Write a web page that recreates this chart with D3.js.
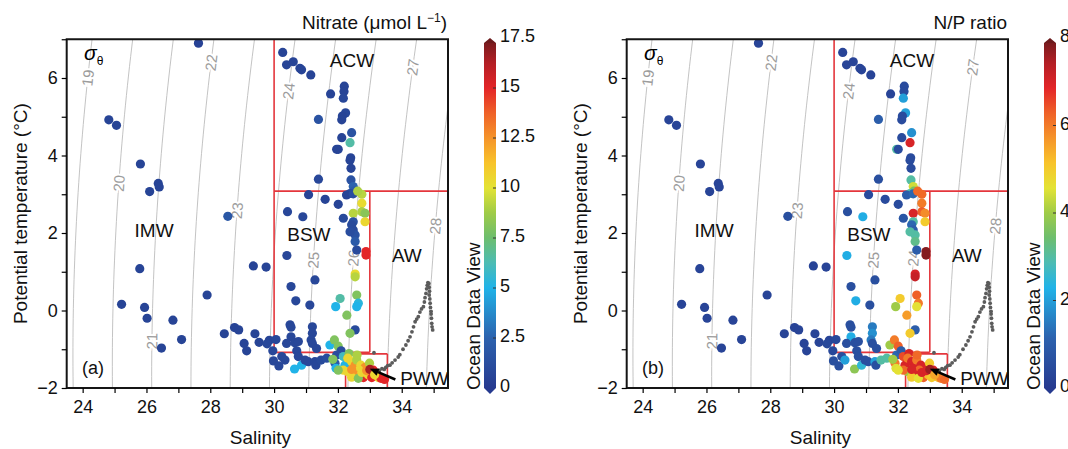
<!DOCTYPE html>
<html>
<head>
<meta charset="utf-8">
<script src="https://cdn.jsdelivr.net/npm/d3@7"></script>
<style>
  body { margin: 0; background: #fff; }
  svg { font-family: "Liberation Sans", Arial, sans-serif; }
</style>
</head>
<body>
<div id="chart"></div>
<script>
// ---- station data: salinity, potential temperature, nitrate, N/P ----
const salinity = [
  27.63,24.82,25.06,25.81,26.10,26.37,26.40,28.55,25.79,25.22,25.94,26.02,26.83,27.10,26.47,27.90,29.35,29.75,28.44,28.76,28.89,29.40,29.06,29.14,29.53,29.85,30.06,29.78,29.96,
  30.27,30.39,30.60,30.81,30.86,31.15,31.77,32.20,32.19,32.17,31.39,32.24,32.14,32.12,32.43,32.12,32.38,31.96,32.01,32.40,32.38,32.41,31.39,32.41,32.48,32.50,
  31.08,31.60,32.01,32.38,32.27,32.48,32.75,32.62,32.75,32.75,32.85,32.85,32.48,32.48,32.43,32.48,32.54,32.54,32.59,32.17,32.38,30.90,30.42,32.88,32.88,32.54,
  32.54,31.28,32.07,32.59,32.64,32.59,31.93,31.12,32.28,31.20,32.54,32.38,30.40,30.53,30.68,
  30.50,30.53,30.53,31.20,30.39,30.65,30.76,31.16,31.20,31.33,30.71,30.76,29.98,30.15,30.24,30.34,30.64,30.86,30.97,31.07,31.28,31.31,31.47,31.65,31.75,31.89,
  31.96,31.91,31.94,32.01,32.10,32.17,32.22,32.35,
  32.31,32.43,32.54,32.59,32.72,32.85,32.99,32.67,32.54,32.80,32.95,33.11,33.06,33.27,33.35,33.46,32.31,32.43,32.64,32.17,32.75,32.90,33.00,32.43,32.01,31.84,
  33.15,32.60
];
const temperature = [
  6.90,4.92,4.78,3.78,3.07,3.28,3.19,2.43,1.08,0.16,0.08,-0.20,-0.25,-0.75,-0.97,0.40,1.15,1.12,-0.60,-0.44,-0.50,-0.60,-0.85,-1.04,-0.82,-0.77,-0.75,-0.86,-1.04,
  6.66,6.34,6.42,6.25,6.21,6.08,5.59,5.79,5.65,5.48,4.93,5.10,5.02,4.92,4.59,4.46,4.33,4.16,4.16,3.94,3.88,3.67,3.39,3.37,3.20,3.08,
  2.99,2.87,2.74,3.02,2.98,3.01,3.00,3.08,2.77,2.55,2.51,2.29,2.51,2.29,2.21,2.08,1.95,1.78,1.56,2.38,2.03,2.42,2.55,1.52,1.43,0.94,
  0.87,0.79,0.31,0.40,0.19,0.10,0.10,0.14,-0.12,-0.42,-0.50,-0.59,1.42,0.62,0.25,
  -0.37,-0.43,-0.68,-0.59,-0.85,-0.83,-0.80,-0.76,-0.85,-0.98,-1.04,-1.19,-1.30,-1.43,-1.19,-1.28,-1.51,-1.41,-1.28,-1.32,-1.32,-1.41,-1.28,-1.23,-0.89,-0.76,
  -1.15,-1.36,-1.49,-0.92,-1.04,-1.19,-1.41,-1.11,
  -1.23,-1.32,-1.41,-1.28,-1.41,-1.47,-1.36,-1.54,-1.66,-1.73,-1.66,-1.54,-1.73,-1.73,-1.75,-1.78,-1.58,-1.72,-1.75,-1.54,-1.60,-1.55,-1.52,-1.52,-1.54,-1.26,
  -1.66,-1.15
];
const nitrate = [
  0.5,0.6,0.6,0.6,0.6,0.6,0.6,1.8,0.6,0.6,0.6,0.6,0.6,0.6,0.6,0.6,0.6,0.6,0.6,0.6,0.6,0.6,0.6,0.6,0.6,0.6,0.8,0.8,0.8,
  0.6,0.6,0.6,0.6,0.6,0.6,0.6,0.6,0.6,0.8,1.5,0.8,0.6,0.6,1.5,0.6,6.5,0.6,0.6,0.6,0.6,0.6,0.8,1.5,2.5,2.0,
  0.6,0.6,0.6,1.0,0.6,1.2,9.2,9.0,10.3,9.0,8.2,10.5,9.2,1.5,1.0,1.0,1.5,2.0,1.0,1.0,1.2,0.8,0.8,15.0,15.0,10.3,
  9.2,0.8,6.5,8.0,5.3,5.0,5.0,0.8,8.0,0.8,1.0,8.0,0.8,0.8,0.8,
  0.8,0.8,0.8,0.8,0.8,0.8,0.8,0.8,0.8,0.8,0.8,0.8,0.8,0.8,0.8,0.8,5.0,5.0,0.8,0.8,0.8,0.8,1.0,1.2,5.0,8.0,
  1.2,2.0,5.0,8.0,1.2,6.0,5.0,8.0,
  10.5,10.5,12.5,9.0,10.5,12.5,9.0,10.5,12.5,15.0,10.5,15.0,15.0,10.5,15.0,15.0,10.5,10.5,8.0,10.5,10.5,12.5,16.5,12.5,8.0,8.0,
  10.5,9.0
];
const npRatio = [
  0.3,0.3,0.3,0.3,0.3,0.3,0.3,0.6,0.3,0.3,0.3,0.3,0.3,0.3,0.3,0.3,0.3,0.3,0.3,0.3,0.3,0.3,0.3,0.3,0.3,0.3,0.4,0.4,0.4,
  0.3,0.3,0.3,0.3,0.3,0.3,0.3,0.5,0.5,2.0,1.0,2.0,0.5,0.5,1.8,0.5,7.0,3.0,0.5,0.5,0.5,0.5,0.6,3.0,4.4,3.5,
  0.5,0.5,0.5,3.0,1.0,1.2,6.2,6.2,6.0,6.3,5.8,5.0,7.0,3.0,1.2,1.0,3.0,3.2,1.0,0.8,3.0,2.2,0.6,7.8,7.8,7.0,
  7.2,0.6,5.0,6.3,6.0,4.6,4.0,0.6,5.6,1.5,1.0,5.0,2.2,0.6,2.2,
  0.6,0.6,2.2,1.8,0.6,0.6,0.6,1.5,0.6,0.6,0.6,0.6,0.6,0.6,0.6,2.0,3.8,2.5,0.6,0.6,2.0,0.6,3.0,3.0,4.0,6.0,
  1.2,6.0,4.5,6.3,1.0,6.5,7.0,7.0,
  6.0,7.0,7.0,6.0,7.0,7.0,5.0,6.2,7.0,6.3,5.2,7.0,5.0,5.2,6.0,6.2,4.0,5.0,4.6,6.2,7.0,7.0,7.6,7.0,4.6,4.0,
  5.5,6.2
];

// deep Atlantic-water profile (small grey dots)
const profileSalinity = [
  33.13,33.30,33.38,33.45,33.50,33.56,33.63,33.70,33.79,33.89,33.94,34.04,34.13,34.20,34.26,34.32,34.37,34.42,34.47,34.52,
  34.57,34.62,34.68,34.71,34.73,34.76,34.78,34.80,34.82,34.85,34.86,34.87,34.86,34.88,34.89,34.90,34.92,34.92,34.93,34.94,34.95,34.97
];
const profileTemperature = [
  -1.09,-1.55,-1.50,-1.52,-1.47,-1.42,-1.41,-1.35,-1.28,-1.20,-1.14,-1.00,-0.89,-0.78,-0.68,-0.55,-0.42,-0.29,-0.22,-0.16,
  -0.04,0.04,0.10,0.22,0.33,0.44,0.56,0.65,0.72,0.70,0.60,0.50,0.40,0.30,0.19,0.08,-0.02,-0.09,-0.20,-0.33,-0.42,-0.50
];

// isopycnals and where their labels sit (temperature along the line)
const sigmaLevels = [19, 20, 21, 22, 23, 24, 25, 26, 27, 28];
const sigmaLabelTemp = [6.0, 3.28, -0.79, 6.4, 2.58, 5.66, 1.3, 1.35, 6.28, 2.18];
const sigmaTextA = ["19", "20", "21", "22", "23", "24", "25", "26", "27", "28"];
const sigmaTextB = ["19", "20", "21", "22", "23", "24", "25", "24", "27", "28"];

const salinityTicks = d3.range(24, 36);
const temperatureTicks = d3.range(-2, 8);
const nitrateTicks = [0, 2.5, 5, 7.5, 10, 12.5, 15, 17.5];
const ratioTicks = [0, 2, 4, 6, 8];

// ODV-like colour map
const cmapPos = [0, 0.143, 0.286, 0.357, 0.429, 0.5, 0.571, 0.643, 0.714, 0.786, 0.857, 0.929, 1];
const cmapColors = ["#263a8f", "#2c62ae", "#20b3e8", "#4cbcb4", "#6dbe6e", "#9fcb47", "#e3e335",
                    "#f8c32a", "#f5942a", "#ef6128", "#e32528", "#b31f25", "#6b1a1c"];
const cmap = d3.scaleLinear().domain(cmapPos).range(cmapColors).interpolate(d3.interpolateRgb).clamp(true);

// UNESCO EOS-80 at surface pressure
function sigma0(S, T) {
  const rw = 999.842594 + 6.793952e-2 * T - 9.095290e-3 * T * T + 1.001685e-4 * T ** 3
    - 1.120083e-6 * T ** 4 + 6.536332e-9 * T ** 5;
  const A = 8.24493e-1 - 4.0899e-3 * T + 7.6438e-5 * T * T - 8.2467e-7 * T ** 3 + 5.3875e-9 * T ** 4;
  const B = -5.72466e-3 + 1.0227e-4 * T - 1.6546e-6 * T * T;
  const C = 4.8314e-4;
  return rw + A * S + B * S ** 1.5 + C * S * S - 1000;
}
function salinityAt(sig, T) {
  let lo = 0, hi = 45;
  for (let k = 0; k < 50; k++) {
    const mid = (lo + hi) / 2;
    if (sigma0(mid, T) < sig) lo = mid; else hi = mid;
  }
  return (lo + hi) / 2;
}

const W = 1068, H = 449;
const svg = d3.select("#chart").append("svg").attr("width", W).attr("height", H);
const defs = svg.append("defs");

const grad = defs.append("linearGradient").attr("id", "odvGrad")
  .attr("gradientUnits", "userSpaceOnUse").attr("x1", 0).attr("x2", 0).attr("y1", 388).attr("y2", 38);
cmapPos.forEach((p, i) => grad.append("stop").attr("offset", p).attr("stop-color", cmapColors[i]));

function drawPanel(opt) {
  const g = svg.append("g").attr("transform", `translate(${opt.dx},0)`);
  const x = d3.scaleLinear().domain([23.5, 35.45]).range([66.7, 448]);
  const y = d3.scaleLinear().domain([-2, 7]).range([388, 39.25]);
  const [x0, x1] = x.range(), [y1, y0] = y.range();

  const clipId = "clip" + opt.dx;
  defs.append("clipPath").attr("id", clipId).append("rect")
    .attr("x", x0).attr("y", y0).attr("width", x1 - x0).attr("height", y1 - y0);
  const plot = g.append("g").attr("clip-path", `url(#${clipId})`);

  // isopycnals
  const temps = d3.range(-2.2, 7.3, 0.25);
  const line = d3.line().x(d => x(d[0])).y(d => y(d[1]));
  plot.selectAll("path.iso").data(sigmaLevels).join("path")
    .attr("class", "iso")
    .attr("d", sig => line(temps.map(t => [salinityAt(sig, t), t])))
    .attr("fill", "none").attr("stroke", "#bcbcbc").attr("stroke-width", 0.9);

  sigmaLevels.forEach((sig, i) => {
    const t = sigmaLabelTemp[i];
    const ax = x(salinityAt(sig, t - 0.3)), ay = y(t - 0.3);
    const bx = x(salinityAt(sig, t + 0.3)), by = y(t + 0.3);
    const ang = Math.atan2(by - ay, bx - ax) * 180 / Math.PI;
    plot.append("text")
      .attr("transform", `translate(${x(salinityAt(sig, t))},${y(t)}) rotate(${ang})`)
      .attr("text-anchor", "middle").attr("dy", "0.36em")
      .attr("font-size", 15).attr("fill", "#9c9c9c")
      .attr("stroke", "#fff").attr("stroke-width", 4).attr("paint-order", "stroke")
      .text(opt.sigmaText[i]);
  });

  // water-mass boxes
  const boxes = [
    [30, 7, 30, -1.08], [30, 3.08, 35.45, 3.08], [33, 3.08, 33, -1.08], [30, -1.08, 33, -1.08],
    [32.24, -2, 32.24, -1.12], [32.24, -1.12, 33.55, -1.12], [33.55, -1.12, 33.55, -2]
  ];
  plot.selectAll("line.box").data(boxes).join("line")
    .attr("x1", d => x(d[0])).attr("y1", d => y(d[1]))
    .attr("x2", d => x(d[2])).attr("y2", d => y(d[3]))
    .attr("stroke", "#e4363c").attr("stroke-width", 1.6);

  // stations
  plot.selectAll("circle.pt").data(d3.range(salinity.length)).join("circle")
    .attr("class", "pt")
    .attr("cx", i => x(salinity[i])).attr("cy", i => y(temperature[i]))
    .attr("r", 4.6)
    .attr("fill", i => cmap(opt.values[i] / opt.max));

  plot.selectAll("circle.prof").data(d3.range(profileSalinity.length)).join("circle")
    .attr("class", "prof")
    .attr("cx", i => x(profileSalinity[i])).attr("cy", i => y(profileTemperature[i]))
    .attr("r", 1.9).attr("fill", "#5b5b5b");

  // annotations
  const sig = g.append("text").attr("x", 84).attr("y", 60);
  sig.append("tspan").attr("font-style", "italic").attr("font-size", 21).text("σ");
  sig.append("tspan").attr("font-size", 12).attr("dy", 5).text("θ");

  const masses = [["ACW", 32.44, 6.28, "middle"], ["IMW", 26.24, 1.90, "middle"], ["BSW", 31.09, 1.79, "middle"],
                  ["AW", 34.16, 1.26, "middle"], ["PWW", 33.95, -1.92, "start"]];
  masses.forEach(m => {
    g.append("text").attr("x", x(m[1])).attr("y", y(m[2])).attr("text-anchor", m[3])
      .attr("font-size", 19).attr("fill", "#111").text(m[0]);
  });
  g.append("text").attr("x", 82).attr("y", 374).attr("font-size", 18).attr("fill", "#111").text(opt.tag);

  // arrow to PWW core
  const tip = [x(33.0), y(-1.5)], tail = [x(33.8), y(-1.78)];
  const len = Math.hypot(tail[0] - tip[0], tail[1] - tip[1]);
  const ux = (tip[0] - tail[0]) / len, uy = (tip[1] - tail[1]) / len;
  const hb = [tip[0] - ux * 9, tip[1] - uy * 9];
  g.append("line").attr("x1", tail[0]).attr("y1", tail[1]).attr("x2", hb[0]).attr("y2", hb[1])
    .attr("stroke", "#000").attr("stroke-width", 2.6);
  g.append("path")
    .attr("d", `M${tip[0]},${tip[1]}L${hb[0] - uy * 4},${hb[1] + ux * 4}L${hb[0] + uy * 4},${hb[1] - ux * 4}Z`)
    .attr("fill", "#000");

  // frame and axes
  g.append("rect").attr("x", x0).attr("y", y0).attr("width", x1 - x0).attr("height", y1 - y0)
    .attr("fill", "none").attr("stroke", "#151515").attr("stroke-width", 2);

  const fmt = d3.format("d");
  const xa = g.append("g").attr("transform", `translate(0,${y1})`)
    .call(d3.axisBottom(x).tickValues(salinityTicks).tickSize(5).tickPadding(7)
      .tickFormat(d => d % 2 === 0 ? fmt(d) : ""));
  const ya = g.append("g").attr("transform", `translate(${x0},0)`)
    .call(d3.axisLeft(y).tickValues(temperatureTicks).tickSize(5).tickPadding(4)
      .tickFormat(d => d % 2 === 0 ? fmt(d) : ""));
  [xa, ya].forEach(a => {
    a.select(".domain").remove();
    a.attr("font-size", 18).attr("font-family", null);
    a.selectAll("line").attr("stroke-width", 1.2);
    a.selectAll("text").attr("fill", "#111");
  });

  g.append("text").attr("x", (x0 + x1) / 2 + 3).attr("y", 444).attr("text-anchor", "middle")
    .attr("font-size", 19).attr("fill", "#111").text("Salinity");
  g.append("text").attr("transform", `translate(27,${(y0 + y1) / 2}) rotate(-90)`)
    .attr("text-anchor", "middle").attr("font-size", 19).attr("fill", "#111")
    .text("Potential temperature (°C)");

  const title = g.append("text").attr("x", 447).attr("y", 29).attr("text-anchor", "end")
    .attr("font-size", 19).attr("fill", "#111");
  opt.title(title);

  // colour bar
  const cy = d3.scaleLinear().domain([0, opt.max]).range([388, 38]);
  const bx = 484, bw = 12;
  g.append("rect").attr("x", bx).attr("y", cy(opt.max) + 5).attr("width", bw)
    .attr("height", cy(0) - cy(opt.max) - 5).attr("fill", "url(#odvGrad)");
  g.append("path").attr("d", `M${bx},${cy(opt.max) + 5}L${bx + bw / 2},${cy(opt.max)}L${bx + bw},${cy(opt.max) + 5}Z`)
    .attr("fill", cmapColors[cmapColors.length - 1]);
  g.append("path").attr("d", `M${bx},${cy(0)}L${bx + bw / 2},${cy(0) + 6}L${bx + bw},${cy(0)}Z`)
    .attr("fill", cmapColors[0]);
  g.selectAll("line.cbt").data(opt.ticks.slice(1, -1)).join("line")
    .attr("x1", bx + bw - 3).attr("x2", bx + bw).attr("y1", d => cy(d)).attr("y2", d => cy(d))
    .attr("stroke", "#333").attr("stroke-width", 1);
  g.selectAll("text.cbl").data(opt.ticks).join("text")
    .attr("x", bx + bw + 4).attr("y", d => cy(d) - 2).attr("dy", "0.36em")
    .attr("font-size", 18).attr("fill", "#111").text(d => d);
  g.append("text").attr("transform", `translate(480,390) rotate(-90)`)
    .attr("font-size", 19).attr("fill", "#111").text("Ocean Data View");
}

drawPanel({
  dx: 0, tag: "(a)", values: nitrate, max: 17.5, ticks: nitrateTicks, sigmaText: sigmaTextA,
  title: t => {
    t.append("tspan").text("Nitrate (μmol L");
    t.append("tspan").attr("font-size", 12).attr("dy", -7).text("−1");
    t.append("tspan").attr("dy", 7).text(")");
  }
});
drawPanel({
  dx: 560, tag: "(b)", values: npRatio, max: 8, ticks: ratioTicks, sigmaText: sigmaTextB,
  title: t => t.text("N/P ratio")
});
</script>
</body>
</html>
